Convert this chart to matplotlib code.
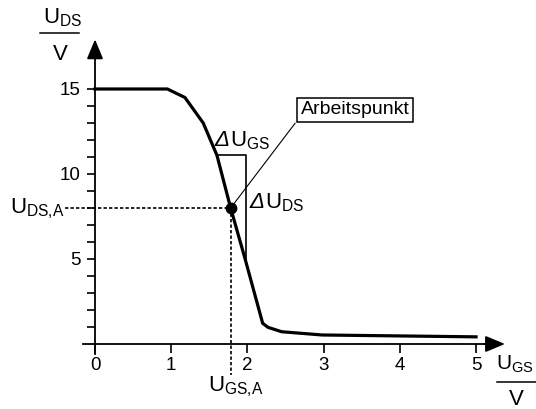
import numpy as np
import matplotlib
matplotlib.use("Agg")
import matplotlib.pyplot as plt

plt.rcParams['font.family'] = ['Liberation Sans', 'DejaVu Sans']
plt.rcParams['mathtext.fontset'] = 'custom'
plt.rcParams['mathtext.rm'] = 'Liberation Sans'
plt.rcParams['mathtext.it'] = 'Liberation Sans:italic'

# Kennlinie U_DS(U_GS)
u_gs = [0, 0.95, 1.18, 1.42, 1.6, 1.78, 1.97, 2.2, 2.27, 2.45, 2.98, 5.0]
u_ds = [15, 15, 14.5, 13.0, 11.1, 8.0, 5.0, 1.22, 0.98, 0.72, 0.53, 0.42]

# Arbeitspunkt
ap_gs = 1.78
ap_ds = 8.0

# Steigungsdreieck
tri_top = 11.1
tri_x = 1.98

x_ticks = [0, 1, 2, 3, 4, 5]
y_ticks = list(range(1, 16))
y_labels = [str(v) if v % 5 == 0 else '' for v in y_ticks]

fig = plt.figure(figsize=(5.36, 4.09), dpi=100)
ax = fig.add_axes([0, 0, 1, 1])
ax.set_xlim(-1.2467, 5.787)
ax.set_ylim(-3.824, 20.235)
ax.patch.set_visible(False)

for s in ['top', 'right']:
    ax.spines[s].set_visible(False)
ax.spines['left'].set_position(('data', 0))
ax.spines['bottom'].set_position(('data', 0))
ax.spines['left'].set_bounds(-0.59, 17.3)
ax.spines['bottom'].set_bounds(-0.16, 5.2)
for s in ['left', 'bottom']:
    ax.spines[s].set_linewidth(1.3)

ax.set_xticks(x_ticks)
ax.set_xticklabels([str(v) for v in x_ticks])
ax.set_yticks(y_ticks)
ax.set_yticklabels(y_labels)
ax.tick_params(axis='x', direction='out', length=6.5, width=1.2, pad=3, labelsize=13.5)
ax.tick_params(axis='y', direction='out', length=5.8, width=1.2, pad=4.5, labelsize=13.5)

# Pfeilspitzen
arrow = dict(arrowstyle='-|>,head_length=1.2,head_width=0.5', mutation_scale=10,
             color='black', lw=1.3, shrinkA=0, shrinkB=0)
ax.annotate('', xy=(0, 17.92), xytext=(0, 17.0), arrowprops=arrow)
ax.annotate('', xy=(5.38, 0), xytext=(5.1, 0), arrowprops=arrow)

# Kennlinie
ax.plot(u_gs, u_ds, color='black', lw=2.3, solid_joinstyle='miter', zorder=3)

# gestrichelte Hilfslinien
ax.plot([-0.394, ap_gs], [ap_ds, ap_ds], color='black', lw=1.2, ls=(0, (2, 1.3)))
ax.plot([ap_gs, ap_gs], [ap_ds, -1.82], color='black', lw=1.2, ls=(0, (2, 1.3)))
ax.plot([ap_gs], [ap_ds], 'o', color='black', ms=7.5, zorder=4)

# Steigungsdreieck
x_left = np.interp(tri_top, u_ds[::-1], u_gs[::-1])
ax.plot([x_left, tri_x, tri_x], [tri_top, tri_top, 5.0], color='black', lw=1.2)

ax.text(1.565, 11.65, 'Δ', fontsize=16, style='italic', ha='left', va='baseline')
ax.text(1.77, 11.65, r'$\mathrm{U}_{\mathrm{GS}}$', fontsize=16,
        ha='left', va='baseline')
ax.text(2.03, 8.0, 'Δ', fontsize=16, style='italic', ha='left', va='baseline')
ax.text(2.235, 8.0, r'$\mathrm{U}_{\mathrm{DS}}$', fontsize=16,
        ha='left', va='baseline')

# Arbeitspunkt-Beschriftung
ax.plot([ap_gs, 2.625], [ap_ds, 12.98], color='black', lw=0.8)
ax.text(3.412, 13.78, 'Arbeitspunkt', fontsize=14, ha='center', va='center',
        bbox=dict(boxstyle='square,pad=0.18', fc='white', ec='black', lw=1.1))

ax.text(-1.115, 7.7, r'$\mathrm{U}_{\mathrm{DS{,}A}}$', fontsize=16,
        ha='left', va='baseline')
ax.text(1.483, -2.8, r'$\mathrm{U}_{\mathrm{GS{,}A}}$', fontsize=16,
        ha='left', va='baseline')

# Achsenbeschriftungen als Bruch
ax.text(-0.686, 18.86, r'$\mathrm{U}_{\mathrm{DS}}$', fontsize=16, ha='left', va='baseline')
ax.plot([-0.72, -0.21], [18.28, 18.28], color='black', lw=1.1)
ax.text(-0.46, 16.7, 'V', fontsize=16, ha='center', va='baseline')

ax.text(5.265, -1.53, r'$\mathrm{U}_{\mathrm{GS}}$', fontsize=15, ha='left', va='baseline')
ax.plot([5.27, 5.787], [-2.22, -2.22], color='black', lw=1.1)
ax.text(5.535, -3.59, 'V', fontsize=16, ha='center', va='baseline')

fig.savefig('out.png', dpi=100)
